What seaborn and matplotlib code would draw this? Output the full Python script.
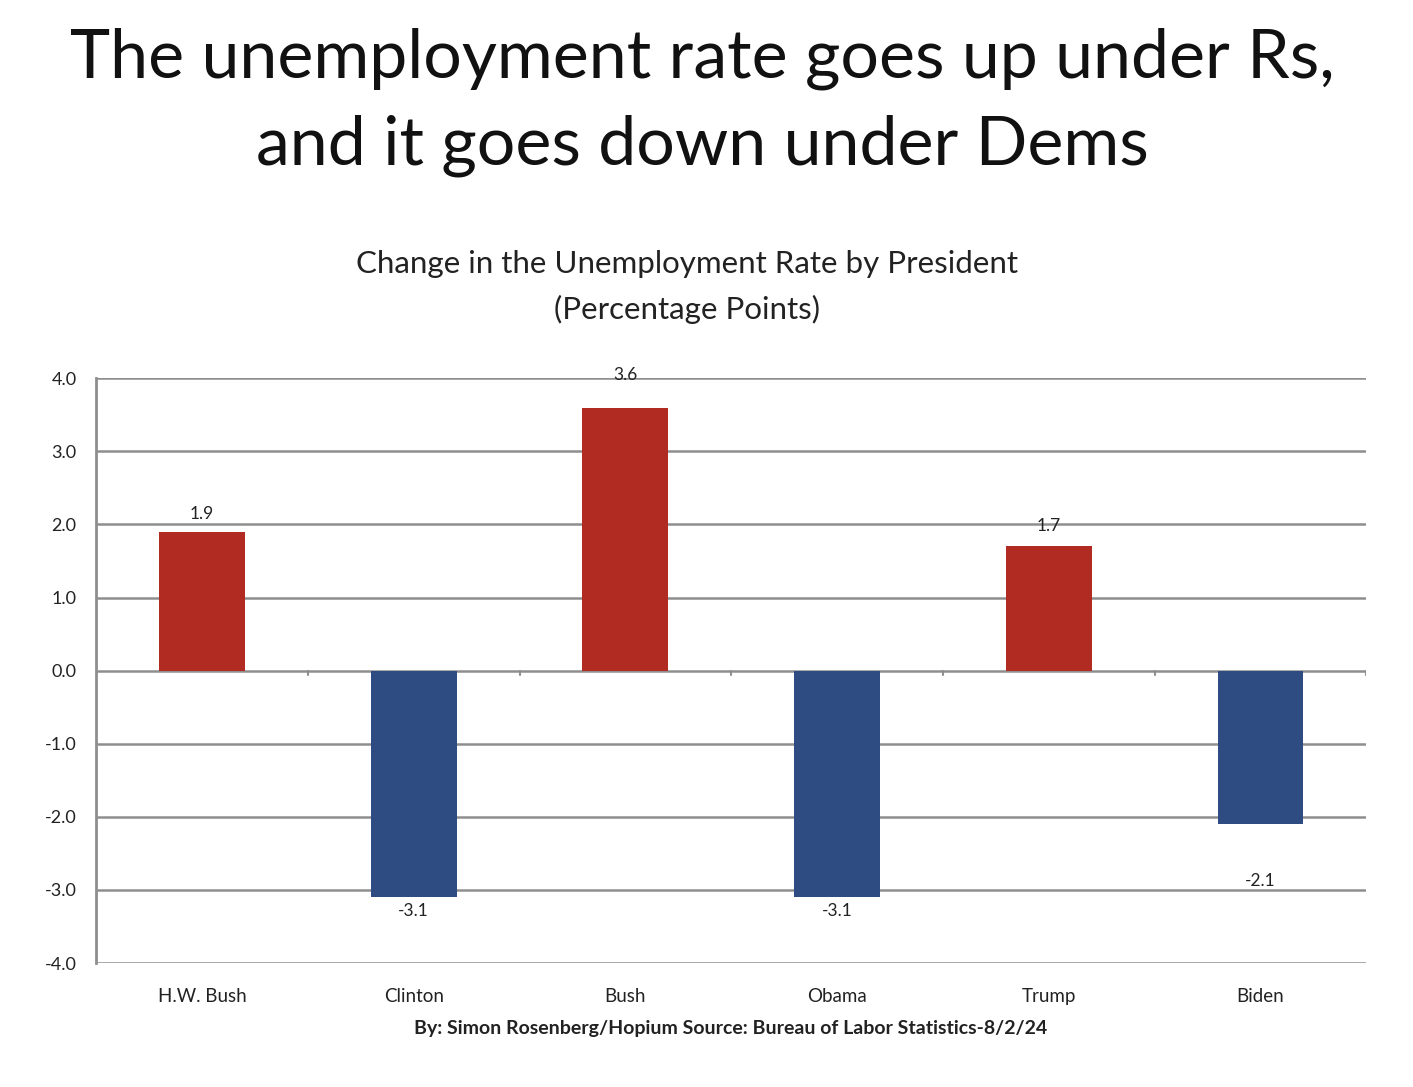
import numpy as np
import pandas as pd
import matplotlib
matplotlib.use("Agg")
import matplotlib.pyplot as plt
import seaborn as sns

# data
presidents = ["H.W. Bush", "Clinton", "Bush", "Obama", "Trump", "Biden"]
change = [1.9, -3.1, 3.6, -3.1, 1.7, -2.1]
party = ["R", "D", "R", "D", "R", "D"]
y_ticks = [4.0, 3.0, 2.0, 1.0, 0.0, -1.0, -2.0, -3.0, -4.0]

# label offsets in points (the original places them a bit unevenly)
label_pad = [7, 4, 18, 4, 9, 35]

colors = {"R": "#B22B23", "D": "#2E4C82"}
grid_col = "#8E8E8E"

df = pd.DataFrame({"president": presidents, "change": change, "party": party})

sns.set_theme(style="white")
plt.rcParams["font.family"] = ["Lato", "DejaVu Sans"]

fig = plt.figure(figsize=(14.13, 10.87), dpi=100)
ax = fig.add_axes([0.068, 0.114, 0.899, 0.538])

sns.barplot(data=df, x="president", y="change", hue="party", palette=colors,
            dodge=False, width=0.405, legend=False, saturation=1,
            linewidth=0, ax=ax)

ax.set_xlim(-0.5, 5.5)
ax.set_ylim(-4, 4)
ax.set_yticks(y_ticks)
ax.set_yticklabels([f"{v:.1f}" for v in y_ticks], fontsize=13, color="#222222")
ax.set_xlabel("")
ax.set_ylabel("")

for v in y_ticks:
    ax.axhline(v, color=grid_col, lw=1.8, zorder=0)

for s in ["top", "right", "bottom"]:
    ax.spines[s].set_visible(False)
ax.spines["left"].set_color(grid_col)
ax.spines["left"].set_linewidth(2)

# category labels sit below the plot, small boundary ticks on the zero line
ax.tick_params(axis="y", length=6, width=1.5, color=grid_col, pad=8)
ax.tick_params(axis="x", length=0, pad=18)
for lbl in ax.get_xticklabels():
    lbl.set_fontsize(13.5)
    lbl.set_color("#222222")
for b in np.arange(0.5, 5.6, 1.0):
    ax.plot([b, b], [0, -0.06], color=grid_col, lw=1.5, zorder=1)

for i, (v, pad) in enumerate(zip(change, label_pad)):
    ax.annotate(f"{v:.1f}", (i, v), xytext=(0, pad if v > 0 else -pad),
                textcoords="offset points", ha="center",
                va="bottom" if v > 0 else "top", fontsize=12.5, color="#222222")

fig.text(0.497, 0.946, "The unemployment rate goes up under Rs,", ha="center",
         va="center", fontsize=49, color="#111111")
fig.text(0.497, 0.866, "and it goes down under Dems", ha="center",
         va="center", fontsize=49, color="#111111")

fig.text(0.486, 0.757, "Change in the Unemployment Rate by President", ha="center",
         va="center", fontsize=22.5, color="#222222")
fig.text(0.486, 0.715, "(Percentage Points)", ha="center",
         va="center", fontsize=22.5, color="#222222")

fig.text(0.517, 0.054, "By: Simon Rosenberg/Hopium Source: Bureau of Labor Statistics-8/2/24",
         ha="center", va="center", fontsize=14, fontweight="bold", color="#222222")

fig.savefig("out.png", dpi=100)
